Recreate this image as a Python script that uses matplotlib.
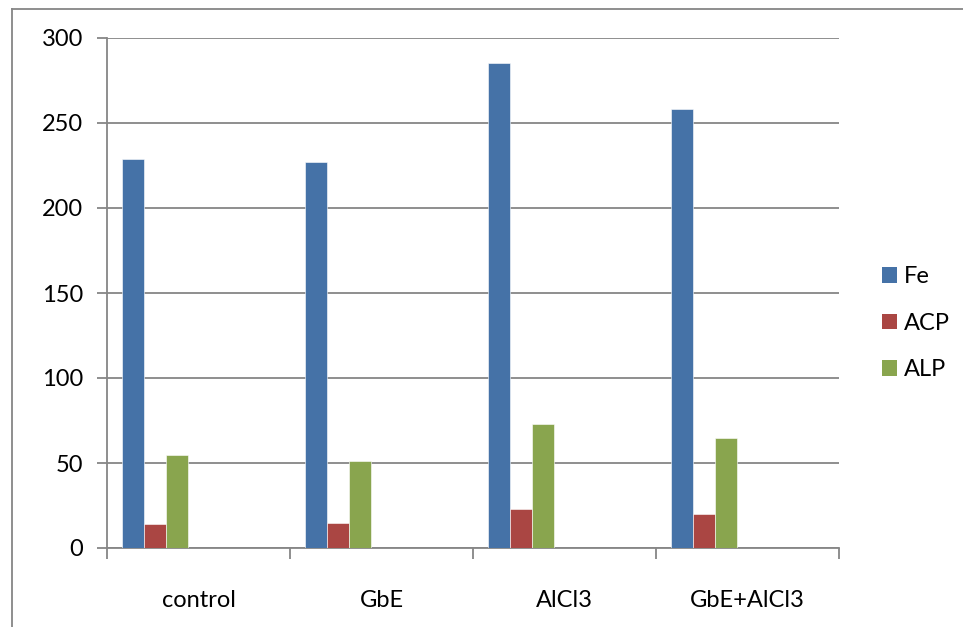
import matplotlib
matplotlib.use("Agg")
import matplotlib.pyplot as plt
from matplotlib.patches import Patch
from matplotlib.lines import Line2D

categories = ["control", "GbE", "AlCl3", "GbE+AlCl3"]
series_names = ["Fe", "ACP", "ALP"]
fe = [229, 227, 285, 258]
acp = [14.2, 14.9, 23, 19.9]
alp = [55, 51.4, 73, 64.8]
yticks = [0, 50, 100, 150, 200, 250, 300]

colors = ["#4572A7", "#AA4643", "#89A54E"]
grid_c = "#868686"

plt.rcParams['font.family'] = ['Lato', 'DejaVu Sans']
FS = 17

W, H = 963, 627
fig = plt.figure(figsize=(W / 100, H / 100), dpi=100)
ax = fig.add_axes([107 / W, (H - 548) / H, (839 - 107) / W, (548 - 38) / H])

bw = 0.119
start = 0.084
for k, vals in enumerate([fe, acp, alp]):
    xs = [i + start + k * bw for i in range(len(categories))]
    ax.bar(xs, vals, width=bw, align='edge', color=colors[k], label=series_names[k],
           edgecolor='white', linewidth=0.4, zorder=3)

ax.set_xlim(0, len(categories))
ax.set_ylim(0, 300)
ax.set_yticks(yticks)
ax.set_yticklabels([str(v) for v in yticks], fontsize=FS)
ax.set_xticks(range(len(categories) + 1))
ax.set_xticklabels([])
ax.set_xticks([i + 0.5 for i in range(len(categories))], minor=True)
ax.set_xticklabels(categories, minor=True, fontsize=FS)
ax.tick_params(axis='x', which='minor', length=0, pad=30)
ax.tick_params(axis='x', which='major', length=8, width=1.3, color=grid_c, direction='out')
ax.tick_params(axis='y', length=7, width=1.3, color=grid_c, direction='out', pad=10)

ax.yaxis.grid(True, color=grid_c, linewidth=1.3, zorder=0)
ax.set_axisbelow(True)
for s in ['top', 'right']:
    ax.spines[s].set_visible(False)
for s in ['left', 'bottom']:
    ax.spines[s].set_color(grid_c)
    ax.spines[s].set_linewidth(1.3)

handles = [Patch(facecolor=c) for c in colors]
leg = fig.legend(handles, series_names, loc='upper left',
                 bbox_to_anchor=(861 / W, 1 - 245 / H), frameon=False,
                 fontsize=FS, handlelength=0.62, handleheight=0.62,
                 labelspacing=1.08, handletextpad=0.3)

# outer chart border (left and top visible)
fig.add_artist(Line2D([12 / W, 12 / W], [0, 1 - 9 / H], transform=fig.transFigure,
                      color=grid_c, linewidth=1.3))
fig.add_artist(Line2D([12 / W, 1], [1 - 9 / H, 1 - 9 / H], transform=fig.transFigure,
                      color=grid_c, linewidth=1.3))

fig.savefig("out.png", dpi=100)
